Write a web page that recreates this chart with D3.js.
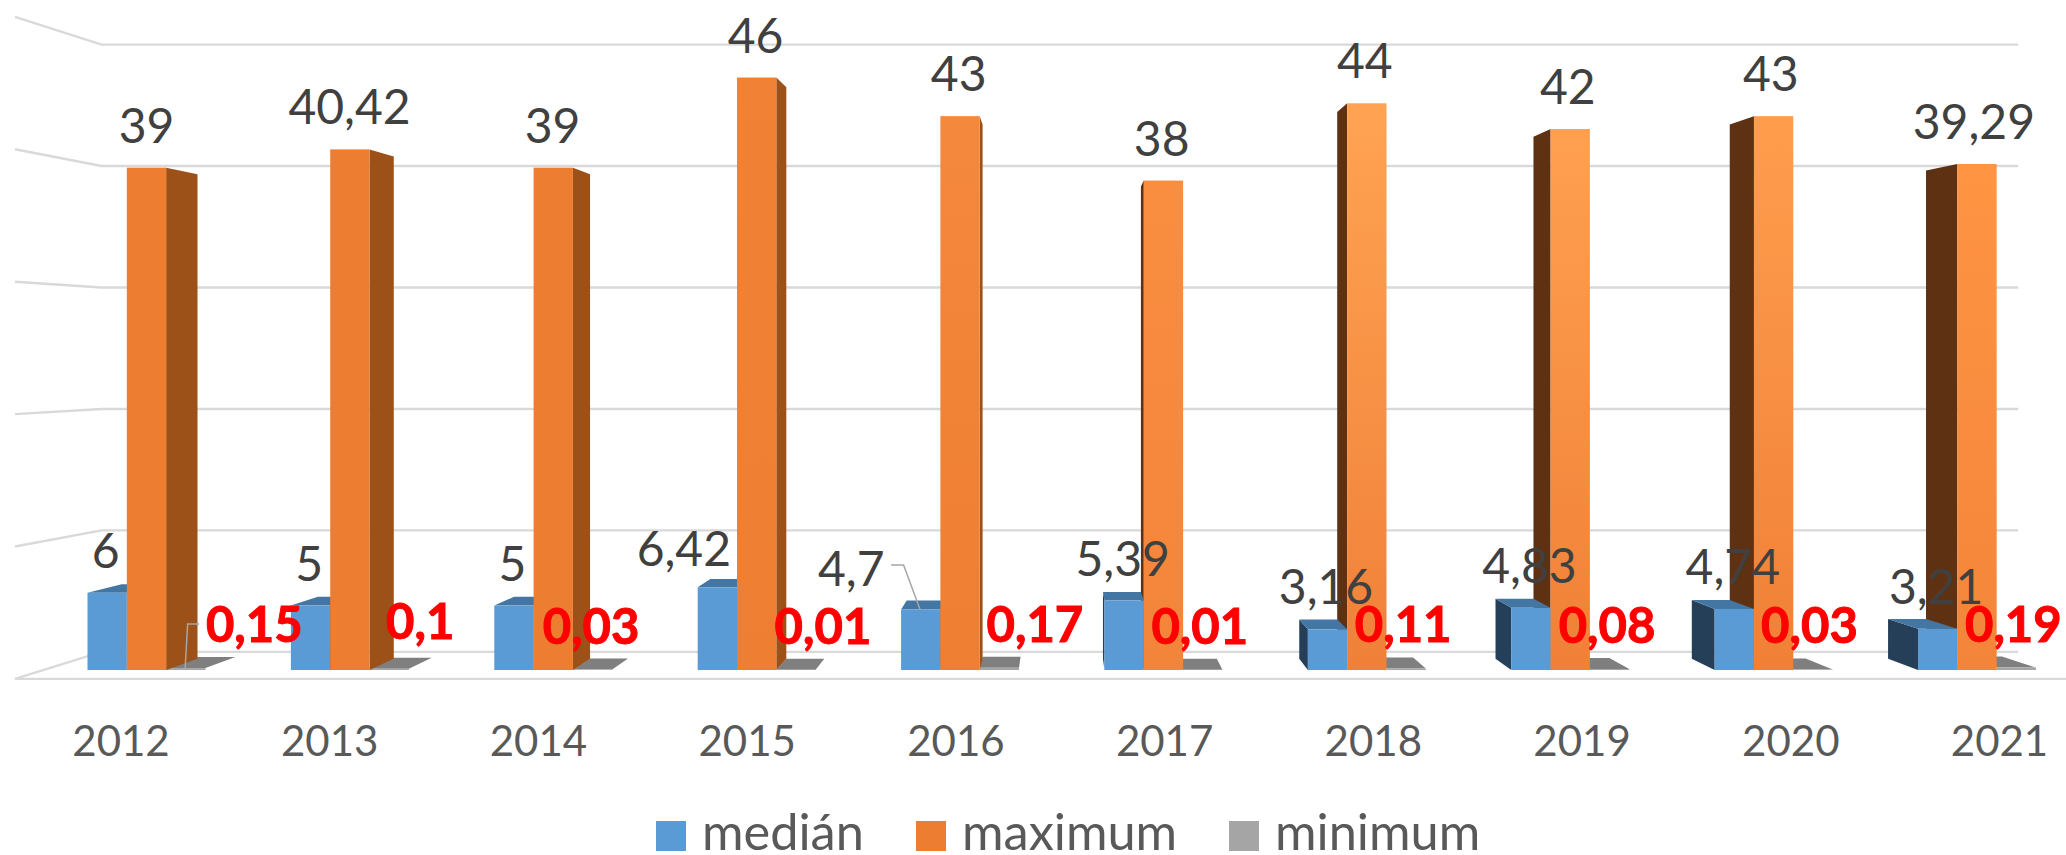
<!DOCTYPE html>
<html>
<head>
<meta charset="utf-8">
<script src="https://cdnjs.cloudflare.com/ajax/libs/d3/7.8.5/d3.min.js"></script>
<style>
 html, body { margin: 0; padding: 0; background: #fff; }
 svg { display: block; }
 text { font-family: Lato, "Open Sans", sans-serif; }
</style>
</head>
<body>
<div id="chart"></div>
<script>
// hodnoty
var years = ["2012", "2013", "2014", "2015", "2016", "2017", "2018", "2019", "2020", "2021"];
var seriesNames = ["medián", "maximum", "minimum"];
var median = [6, 5, 5, 6.42, 4.7, 5.39, 3.16, 4.83, 4.74, 3.21];
var maximum = [39, 40.42, 39, 46, 43, 38, 44, 42, 43, 39.29];
var minimum = [0.15, 0.1, 0.03, 0.01, 0.17, 0.01, 0.11, 0.08, 0.03, 0.19];
var gridTicks = [0, 10, 20, 30, 40, 50];

// label nudges, the chart has them dragged by hand
var medianNudge = { "2015": [-32, 4], "2016": [-68, 2] };
var minLabelDx = [68.5, 31, -1.5, 27, 35.5, -3, -3, -2.5, -3.5, -3];
var minLabelY = [642, 639, 644, 644, 642, 644, 642, 643, 643, 642];

var width = 2066, height = 855;
var svg = d3.select("#chart").append("svg")
  .attr("width", width).attr("height", height);
var defs = svg.append("defs");

// x and y on the plane of the bars fronts
var x = d3.scaleBand().domain(years).range([87.5, 2036]).paddingInner(0.42);
var xSeries = d3.scaleBand().domain(seriesNames).range([0, x.bandwidth()]);
var y = d3.scaleLinear().domain([0, 50]).range([670, 26]);
var xLabels = d3.scalePoint().domain(years).range([120.5, 1999]);

// perspective: everything runs to one vanishing point
var vanishX = 1062, vanishY = 352;
var barDepth = 0.035, wallDepth = 0.057, floorDepth = -0.028;
var wallLeft = 43.5, wallRight = 2076;

function project(px, py, depth) {
  return [px + depth * (vanishX - px), py + depth * (vanishY - py)];
}
function poly(g, pts, fill) {
  return g.append("polygon")
    .attr("points", pts.map(function(p) { return p.join(","); }).join(" "))
    .attr("fill", fill);
}

// grid, back wall and left wall
var grid = svg.append("g").attr("stroke", "#d9d9d9").attr("stroke-width", 2.4).attr("fill", "none");
gridTicks.forEach(function(t) {
  var a = project(wallLeft, y(t), floorDepth);
  var b = project(wallLeft, y(t), wallDepth);
  var c = project(wallRight, y(t), wallDepth);
  grid.append("polyline").attr("points", [a, b, c].map(String).join(" "));
  if (t === 0) {
    grid.append("line").attr("x1", a[0]).attr("y1", a[1]).attr("x2", width).attr("y2", a[1]);
  }
});

// max bars get lighter toward the right side of the chart
var maxTop = ["#ed7d31", "#ed7d31", "#ed7d31", "#f08135", "#f4883c", "#f98d40", "#ffa352", "#ffa050", "#ff9d4d", "#ff9443"];
var maxBottom = ["#ed7d31", "#ed7d31", "#ed7d31", "#ee7e32", "#ee7e32", "#f3853a", "#f08038", "#f08037", "#f08036", "#f3853a"];
years.forEach(function(yr, i) {
  var grad = defs.append("linearGradient").attr("id", "maxFill" + yr)
    .attr("x1", 0).attr("x2", 0).attr("y1", 0).attr("y2", 1);
  grad.append("stop").attr("offset", 0).attr("stop-color", maxTop[i]);
  grad.append("stop").attr("offset", 1).attr("stop-color", maxBottom[i]);
});

function drawSide(g, x0, w, value, fill) {
  var edge;
  if (x0 > vanishX) edge = x0;          // left side is visible
  else if (x0 + w < vanishX) edge = x0 + w; // right side is visible
  else return;
  poly(g, [[edge, y(value)], project(edge, y(value), barDepth), project(edge, y(0), barDepth), [edge, y(0)]], fill);
}
function drawTop(g, x0, w, value, fill) {
  poly(g, [[x0, y(value)], [x0 + w, y(value)], project(x0 + w, y(value), barDepth), project(x0, y(value), barDepth)], fill);
}
function drawFront(g, x0, w, value, fill) {
  g.append("rect").attr("x", x0).attr("y", y(value))
    .attr("width", w).attr("height", y(0) - y(value)).attr("fill", fill);
}

var bars = svg.append("g");
years.forEach(function(yr, i) {
  var g = bars.append("g");
  var w = xSeries.bandwidth();
  var medX = x(yr) + xSeries("medián");
  var maxX = x(yr) + xSeries("maximum");
  var minX = x(yr) + xSeries("minimum");

  drawTop(g, minX, w, minimum[i], "#7f7f7f");
  drawFront(g, minX, w, minimum[i], "#a5a5a5");

  drawSide(g, maxX, w, maximum[i], maxX > vanishX ? "#5f3113" : "#9c5119");
  drawSide(g, medX, w, median[i], "#243f57");
  drawTop(g, medX, w, median[i], "#4476a3");
  drawFront(g, medX, w, median[i], "#5b9bd5");
  drawFront(g, maxX, w, maximum[i], "url(#maxFill" + yr + ")");
});

// leader lines for the two labels moved away from their bars
var leaders = svg.append("g").attr("fill", "none").attr("stroke", "#a6a6a6").attr("stroke-width", 1.5);
var x15 = x("2012") + xSeries("minimum");
var x47 = x("2016") + xSeries("medián");
leaders.append("polyline").attr("points", [[x15 + 33, 624], [x15 + 21.5, 624], [x15 + 19, y(minimum[0])]].map(String).join(" "));
leaders.append("polyline").attr("points", [[x47 - 10, 565], [x47 + 2.5, 565], [x47 + 19, y(median[4])]].map(String).join(" "));

function fmt(v) { return String(v).replace(".", ","); }

// data labels
var labels = svg.append("g").attr("text-anchor", "middle").attr("font-size", 48);
years.forEach(function(yr, i) {
  var w = xSeries.bandwidth();
  var nudge = medianNudge[yr] || [0, 0];
  labels.append("text")
    .attr("x", x(yr) + xSeries("medián") + w / 2 - 1.5 + nudge[0])
    .attr("y", y(median[i]) - 25 + nudge[1])
    .attr("fill", "#404040").text(fmt(median[i]));
  labels.append("text")
    .attr("x", x(yr) + xSeries("maximum") + w / 2 - i * 0.35)
    .attr("y", y(maximum[i]) - 25)
    .attr("fill", "#404040").text(fmt(maximum[i]));
});
years.forEach(function(yr, i) {
  labels.append("text")
    .attr("x", x(yr) + xSeries("minimum") + xSeries.bandwidth() / 2 + minLabelDx[i])
    .attr("y", minLabelY[i])
    .attr("fill", "#ff0000").attr("stroke", "#ff0000").attr("stroke-width", 1)
    .attr("font-size", 49).attr("font-weight", 700).text(fmt(minimum[i]));
});

// category axis
var axis = svg.append("g").attr("transform", "translate(0,756)")
  .call(d3.axisBottom(xLabels).tickSize(0).tickPadding(0));
axis.select(".domain").remove();
axis.selectAll("text").attr("y", 0).attr("dy", 0)
  .attr("font-size", 42).attr("fill", "#595959")
  .style("font-family", "Lato, sans-serif");

// legend
var legendColors = ["#5b9bd5", "#ed7d31", "#a5a5a5"];
var legendX = [656, 916, 1229];
var legend = svg.append("g");
seriesNames.forEach(function(name, i) {
  legend.append("rect").attr("x", legendX[i]).attr("y", 821)
    .attr("width", 30).attr("height", 30).attr("fill", legendColors[i]);
  legend.append("text").attr("x", legendX[i] + 46).attr("y", 850)
    .attr("font-size", 50.5).attr("fill", "#595959").text(name);
});
</script>
</body>
</html>
